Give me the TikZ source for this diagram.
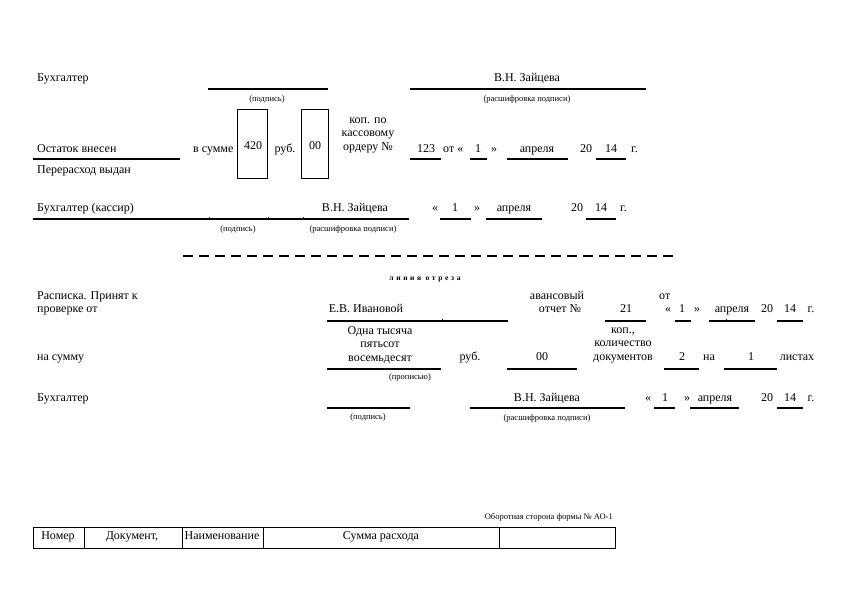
\documentclass[tikz,border=0pt]{standalone}
\usepackage{fontspec}
\setmainfont{Liberation Serif}
\begin{document}
\begin{tikzpicture}[x=1pt,y=-1pt,
  t/.style={font=\fontsize{12}{13.5}\selectfont, inner sep=0pt, anchor=mid},
  tw/.style={t, anchor=mid west},
  sm/.style={font=\fontsize{8.5}{9}\selectfont, inner sep=0pt, anchor=mid},
  fl/.style={line width=1.1pt},
  tick/.style={line width=0.6pt},
  box/.style={line width=1pt}]
\useasboundingbox[fill=white] (0,0) rectangle (846,601);

% ---- top: accountant signature
\node[tw] (b1) at (37,79) {Бухгалтер};
\draw[fl] (208,89) -- (328,89);
\node[sm] (p1) at (267,99) {(подпись)};
\draw[fl] (410,89) -- (646,89);
\node[t] (n1) at (527,79) {В.Н. Зайцева};
\node[sm] (r1) at (527,99) {(расшифровка подписи)};

% ---- remainder row
\node[tw] (ost) at (37,150) {Остаток внесен};
\draw[fl] (33,159) -- (180,159);
\node[tw] (per) at (37,171) {Перерасход выдан};
\node[tw] (vs) at (193,150) {в сумме};
\draw[box] (237,110) rectangle (267,179);
\node[t] (s420) at (253,147) {420};
\node[t] (rub1) at (285,150) {руб.};
\draw[box] (301,110) rectangle (328,179);
\node[t] (k00) at (315,147) {00};
\node[t, align=center, anchor=center] (kop1) at (368,135) {коп. по\\кассовому\\ордеру №};
\node[t] (o123) at (426,150) {123};
\draw[fl] (410,159) -- (441,159);
\node[tw] (ot1) at (443,150) {от «};
\node[t] (d1) at (478,150) {1};
\draw[fl] (470,159) -- (487,159);
\node[t] (q1) at (494,150) {»};
\node[t] (m1) at (537,150) {апреля};
\draw[fl] (507,159) -- (568,159);
\node[t] (y1a) at (586,150) {20};
\node[t] (y1b) at (611,150) {14};
\draw[fl] (596,159) -- (626,159);
\node[tw] (g1) at (631,150) {г.};

% ---- cashier row
\node[tw] (bk) at (37,209) {Бухгалтер (кассир)};
\draw[fl] (33,219) -- (409,219);
\foreach \xx in {209,268,303} \draw[tick] (\xx,219) -- (\xx,217.3);
\node[t] (n2) at (355,209) {В.Н. Зайцева};
\node[sm] (p2) at (238,229) {(подпись)};
\node[sm] (r2) at (353,229) {(расшифровка подписи)};
\node[t] (ql2) at (435,209) {«};
\node[t] (d2) at (455,209) {1};
\draw[fl] (440,219) -- (471,219);
\node[t] (q2) at (477,209) {»};
\node[t] (m2) at (514,209) {апреля};
\draw[fl] (486,219) -- (542,219);
\node[t] (y2a) at (577,209) {20};
\node[t] (y2b) at (601,209) {14};
\draw[fl] (586,219) -- (616,219);
\node[tw] (g2) at (620,209) {г.};

% ---- cut line
\draw[line width=1.1pt, dash pattern=on 9.5pt off 6.5pt] (183,256) -- (675,256);
\node[font=\fontsize{7.5}{8}\selectfont\bfseries\addfontfeatures{LetterSpace=35}, inner sep=0pt, anchor=mid] (cut) at (425,278) {линия отреза};

% ---- receipt
\node[tw] (ras1) at (37,297) {Расписка. Принят к};
\node[tw] (ras2) at (37,310) {проверке от};
\node[t] (iv) at (366,310) {Е.В. Ивановой};
\draw[fl] (327,321) -- (508,321);
\draw[tick] (442,321) -- (442,319.3);
\node[t] (av1) at (557,297) {авансовый};
\node[t] (av2) at (560,310) {отчет №};
\node[t] (n21) at (626,310) {21};
\draw[fl] (605,321) -- (646,321);
\node[tw] (ot3) at (659,297) {от};
\node[t] (ql3) at (668,310) {«};
\node[t] (d3) at (682,310) {1};
\draw[fl] (675,321) -- (691,321);
\node[t] (q3) at (697,310) {»};
\node[t] (m3) at (732,310) {апреля};
\draw[fl] (709,321) -- (755,321);
\draw[tick] (726,321) -- (726,319.3);
\node[t] (y3a) at (767,310) {20};
\node[t] (y3b) at (790,310) {14};
\draw[fl] (777,321) -- (803,321);
\node[t] (g3) at (811,310) {г.};

\node[t, align=center, anchor=center] (sumw) at (380,345) {Одна тысяча\\пятьсот\\восемьдесят};
\draw[fl] (327,369) -- (441,369);
\node[sm] (prop) at (410,377) {(прописью)};
\node[tw] (nas) at (37,358) {на сумму};
\node[t] (rub4) at (470,358) {руб.};
\node[t] (k4) at (542,358) {00};
\draw[fl] (507,369) -- (577,369);
\node[t, align=center, anchor=center] (kop4) at (623,345) {коп.,\\количество\\документов};
\node[t] (doc) at (682,358) {2};
\draw[fl] (664,369) -- (699,369);
\node[t] (na) at (709,358) {на};
\node[t] (lis) at (751,358) {1};
\draw[fl] (724,369) -- (777,369);
\node[t] (list) at (797,358) {листах};

\node[tw] (b5) at (37,399) {Бухгалтер};
\draw[fl] (327,408) -- (410,408);
\node[sm] (p5) at (368,417) {(подпись)};
\node[t] (n5) at (547,399) {В.Н. Зайцева};
\draw[fl] (470,408) -- (625,408);
\node[sm] (r5) at (547,418) {(расшифровка подписи)};
\node[t] (ql5) at (648,399) {«};
\node[t] (d5) at (665,399) {1};
\draw[fl] (654,408) -- (675,408);
\node[t] (q5) at (687,399) {»};
\node[t] (m5) at (715,399) {апреля};
\draw[fl] (690,408) -- (739,408);
\node[t] (y5a) at (767,399) {20};
\node[t] (y5b) at (790,399) {14};
\draw[fl] (777,408) -- (803,408);
\node[t] (g5) at (811,399) {г.};

% ---- reverse side table
\node[sm, anchor=mid east] (obor) at (613,517) {Оборотная сторона формы № АО-1};
\draw[box] (33,527) rectangle (615,548);
\foreach \xx in {84,182,263,499} \draw[box] (\xx,527) -- (\xx,548);
\node[t] (c1) at (58,537) {Номер};
\node[t] (c2) at (132,537) {Документ,};
\node[t] (c3) at (222,537) {Наименование};
\node[t] (c4) at (381,537) {Сумма расхода};
\end{tikzpicture}
\end{document}
